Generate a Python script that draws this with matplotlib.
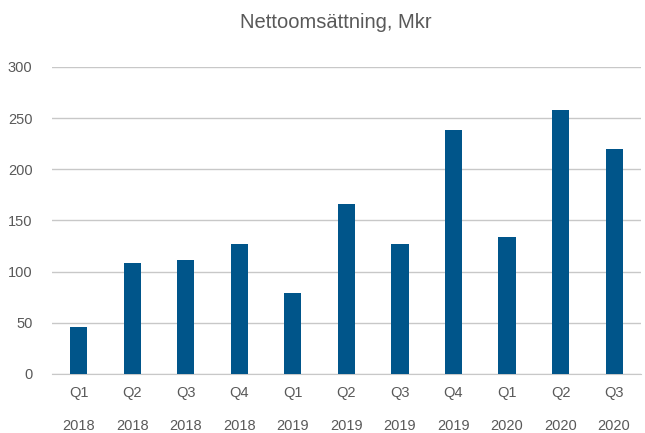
import matplotlib.pyplot as plt
import numpy as np

# quarterly net sales (Mkr)
quarters = ['Q1', 'Q2', 'Q3', 'Q4', 'Q1', 'Q2', 'Q3', 'Q4', 'Q1', 'Q2', 'Q3']
years = ['2018', '2018', '2018', '2018', '2019', '2019', '2019', '2019', '2020', '2020', '2020']
sales = [46, 108, 111, 127, 79, 166, 127, 238, 134, 258, 220]

plt.rcParams['font.family'] = ['Liberation Sans', 'DejaVu Sans']

fig = plt.figure(figsize=(6.45, 4.33), dpi=100)
ax = fig.add_axes([0.0806, 0.1363, 0.913, 0.709])

x = np.arange(len(sales))
ax.bar(x, sales, width=0.32, color='#00558A', zorder=3)

ax.set_xlim(-0.5, len(sales) - 0.5)
ax.set_ylim(0, 300)
ax.set_yticks(range(0, 301, 50))
ax.grid(axis='y', color='#c8c8c8', linewidth=1, zorder=0)

labels = [q + '\n' + y for q, y in zip(quarters, years)]
ax.set_xticks(x)
ax.set_xticklabels(labels, linespacing=2.7)

for s in ['top', 'right', 'left']:
    ax.spines[s].set_visible(False)
ax.spines['bottom'].set_color('#c8c8c8')
ax.tick_params(axis='both', length=0, labelsize=10.5, colors='#595959')
ax.tick_params(axis='x', pad=9)
ax.tick_params(axis='y', pad=14)

fig.suptitle('Nettoomsättning, Mkr', x=0.521, y=0.97, fontsize=14.5, color='#595959')

fig.savefig('out.png', dpi=100)
